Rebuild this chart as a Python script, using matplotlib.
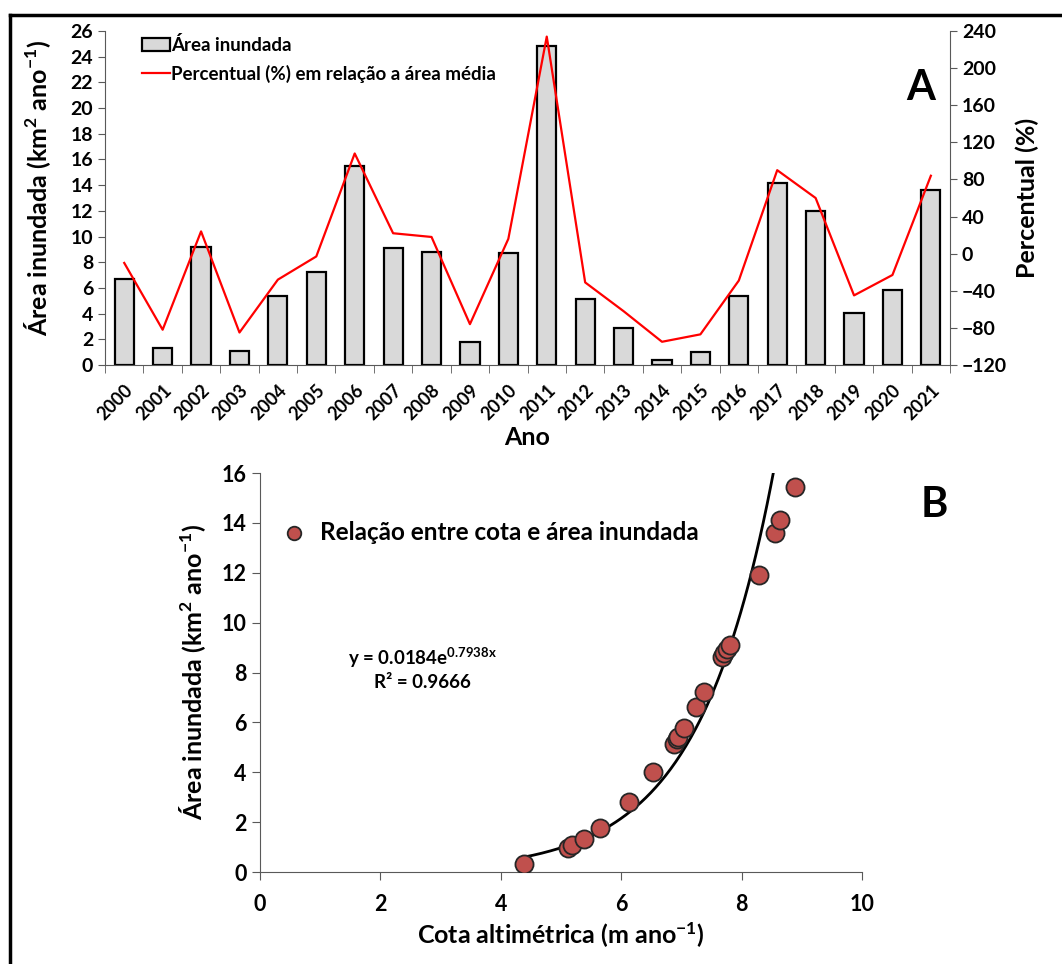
import numpy as np
import matplotlib.pyplot as plt
from matplotlib.patches import Patch
from matplotlib.lines import Line2D

plt.rcParams['font.family'] = ['Lato', 'DejaVu Sans']
plt.rcParams['font.weight'] = 'bold'
plt.rcParams['axes.labelweight'] = 'bold'
plt.rcParams['mathtext.fontset'] = 'custom'
plt.rcParams['mathtext.rm'] = 'Lato:bold'
plt.rcParams['mathtext.bf'] = 'Lato:bold'
plt.rcParams['mathtext.default'] = 'bf'

# Painel A: area inundada por ano e percentual em relacao a media
anos = [str(a) for a in range(2000, 2022)]
area = [6.7, 1.35, 9.2, 1.1, 5.4, 7.2, 15.5, 9.1, 8.8, 1.8, 8.7,
        24.8, 5.15, 2.85, 0.35, 1.0, 5.4, 14.2, 11.95, 4.05, 5.8, 13.65]
percentual = [-10, -82, 24, -85, -28, -3, 108, 22, 18, -76, 16,
              234, -31, -62, -95, -87, -29, 90, 60, -45, -23, 84]

# Painel B: cota altimetrica x area inundada
cota = [4.39, 5.11, 5.19, 5.39, 5.64, 6.13, 6.53, 6.88, 6.93, 6.95, 7.04,
        7.24, 7.38, 7.67, 7.71, 7.76, 7.80, 8.29, 8.56, 8.64, 8.88]
area_b = [0.31, 0.95, 1.08, 1.32, 1.76, 2.82, 4.0, 5.12, 5.32, 5.4, 5.76,
          6.63, 7.2, 8.63, 8.79, 8.95, 9.09, 11.9, 13.6, 14.1, 15.46]
coef_a, coef_b = 0.0184, 0.7938

fig = plt.figure(figsize=(10.62, 9.64), dpi=100)
cinza = '#595959'

# ---------- A ----------
ax = fig.add_axes([0.0989, 0.6214, 0.7957, 0.3464])
x = np.arange(len(anos))
ax.bar(x, area, width=0.5, color='#d9d9d9', edgecolor='black', linewidth=1.6, zorder=2)
ax.set_xlim(-0.5, len(anos) - 0.5)
ax.set_ylim(0, 26)
ax.set_yticks(np.arange(0, 27, 2))
ax.set_xticks(x)
ax.set_xticklabels(anos, rotation=45, ha='right', rotation_mode='anchor',
                   fontsize=13, fontweight='bold')
ax.set_xticks(np.arange(-0.5, len(anos)), minor=True)
ax.tick_params(axis='x', which='major', length=0, pad=12)
ax.tick_params(axis='x', which='minor', length=6, color=cinza, direction='out')
ax.tick_params(axis='y', labelsize=14, length=5, color=cinza)
plt.setp(ax.get_yticklabels(), fontweight='bold')
for s in ['top', 'right']:
    ax.spines[s].set_visible(False)
for s in ['left', 'bottom']:
    ax.spines[s].set_color(cinza)
ax.set_ylabel('Área inundada (km$^{2}$ ano$^{-1}$)', fontsize=18, labelpad=6)
ax.yaxis.set_label_coords(-0.062, 0.53)
ax.set_xlabel('Ano', fontsize=18, labelpad=2)

ax2 = ax.twinx()
ax2.plot(x, percentual, color='#ff0000', linewidth=1.6, zorder=3)
ax2.set_ylim(-120, 240)
ax2.set_yticks(np.arange(-120, 241, 40))
ax2.tick_params(axis='y', labelsize=14, length=5, color=cinza)
plt.setp(ax2.get_yticklabels(), fontweight='bold')
for s in ['top', 'left', 'bottom']:
    ax2.spines[s].set_visible(False)
ax2.spines['right'].set_color(cinza)
ax2.set_ylabel('Percentual (%)', fontsize=18, labelpad=6)

handles = [Patch(facecolor='#d9d9d9', edgecolor='black', linewidth=1.6),
           Line2D([0], [0], color='#ff0000', linewidth=1.6)]
ax2.legend(handles, ['Área inundada', 'Percentual (%) em relação a área média'],
           loc='upper left', bbox_to_anchor=(0.024, 1.035), frameon=False,
           prop={'size': 13.5, 'weight': 'bold'}, handlelength=1.5,
           handletextpad=0.05, labelspacing=0.55)
ax2.text(0.965, 0.83, 'A', transform=ax.transAxes, fontsize=30, fontweight='bold',
         ha='center', va='center')

# ---------- B ----------
bx = fig.add_axes([0.2448, 0.0954, 0.5669, 0.4139])
xs = np.linspace(min(cota), np.log(16 / coef_a) / coef_b, 200)
bx.plot(xs, coef_a * np.exp(coef_b * xs), color='black', linewidth=2, zorder=2)
bx.scatter(cota, area_b, s=170, color='#c0504d', edgecolor='#262626', linewidth=1.3,
           zorder=3, label='Relação entre cota e área inundada')
bx.set_xlim(0, 10)
bx.set_ylim(0, 16)
bx.set_xticks(np.arange(0, 11, 2))
bx.set_yticks(np.arange(0, 17, 2))
bx.tick_params(labelsize=15.5, length=6, color=cinza)
bx.tick_params(axis='x', pad=10)
plt.setp(bx.get_xticklabels() + bx.get_yticklabels(), fontweight='bold')
for s in ['top', 'right']:
    bx.spines[s].set_visible(False)
for s in ['left', 'bottom']:
    bx.spines[s].set_color(cinza)
bx.set_ylabel('Área inundada (km$^{2}$ ano$^{-1}$)', fontsize=18, labelpad=10)
bx.set_xlabel('Cota altimétrica (m ano$^{-1}$)', fontsize=18, labelpad=4)
bx.legend(loc='upper left', bbox_to_anchor=(-0.02, 0.935), frameon=False,
          prop={'size': 17.5, 'weight': 'bold'}, handletextpad=0.05, markerscale=0.75)
bx.text(0.27, 0.51, 'y = 0.0184e$^{0.7938x}$\nR² = 0.9666', transform=bx.transAxes,
        fontsize=13.5, fontweight='bold', ha='center', va='center', linespacing=1.3)
bx.text(1.12, 0.92, 'B', transform=bx.transAxes, fontsize=30, fontweight='bold',
        ha='center', va='center')

# moldura
fig.add_artist(Line2D([0.0094, 1.0], [0.9844, 0.9844], color='black', linewidth=2.5,
                      transform=fig.transFigure))
fig.add_artist(Line2D([0.0094, 0.0094], [0.0, 0.9844], color='black', linewidth=2.5,
                      transform=fig.transFigure))

fig.savefig('out.png', dpi=100)
